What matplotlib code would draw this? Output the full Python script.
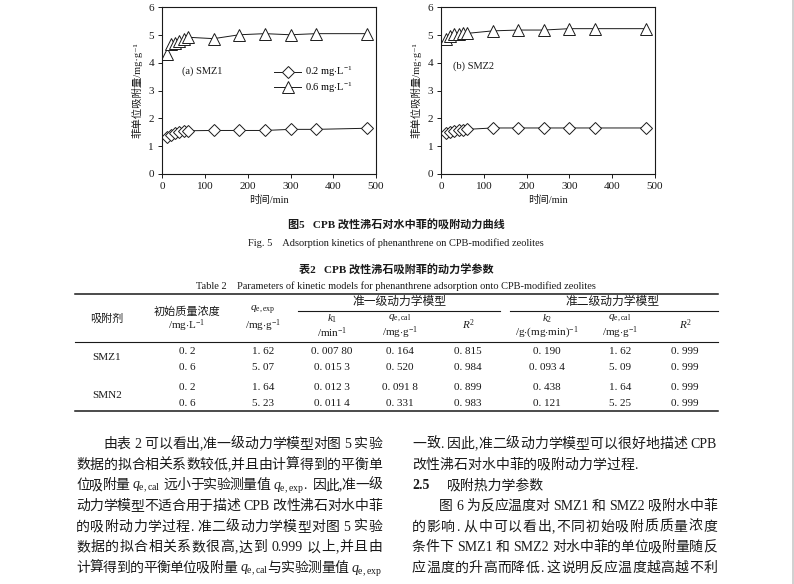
import re
import matplotlib
matplotlib.use("Agg")
import matplotlib.pyplot as plt

# ----------------------------
# data
# ----------------------------

time_min = [10, 20, 30, 40, 50, 60, 120, 180, 240, 300, 360, 480]

smz1_02 = [1.32, 1.41, 1.48, 1.52, 1.55, 1.55, 1.56, 1.56, 1.56, 1.60, 1.60, 1.64]
smz1_06 = [4.30, 4.67, 4.72, 4.77, 4.85, 4.92, 4.87, 5.01, 5.05, 5.01, 5.05, 5.05]
smz2_02 = [1.48, 1.52, 1.55, 1.56, 1.59, 1.60, 1.65, 1.65, 1.65, 1.65, 1.65, 1.65]
smz2_06 = [4.86, 4.98, 5.03, 5.05, 5.06, 5.06, 5.15, 5.18, 5.18, 5.23, 5.23, 5.23]

series_labels = [r"0.2 mg$\cdot$L$^{-1}$", r"0.6 mg$\cdot$L$^{-1}$"]

# table 2
sorbents = ["SMZ1", "SMN2"]
c0 = ["0. 2", "0. 6", "0. 2", "0. 6"]
qe_exp = ["1. 62", "5. 07", "1. 64", "5. 23"]
k1 = ["0. 007 80", "0. 015 3", "0. 012 3", "0. 011 4"]
qe_cal1 = ["0. 164", "0. 520", "0. 091 8", "0. 331"]
r2_1 = ["0. 815", "0. 984", "0. 899", "0. 983"]
k2 = ["0. 190", "0. 093 4", "0. 438", "0. 121"]
qe_cal2 = ["1. 62", "5. 09", "1. 64", "5. 25"]
r2_2 = ["0. 999", "0. 999", "0. 999", "0. 999"]

QC = r"$q_{\mathrm{e,cal}}$"
QE = r"$q_{\mathrm{e,exp}}$"

left_lines = [
    "由表 2 可以看出,准一级动力学模型对图 5 实验",
    "数据的拟合相关系数较低,并且由计算得到的平衡单",
    "位吸附量 " + QC + " 远小于实验测量值 " + QE + ".  因此,准一级",
    "动力学模型不适合用于描述 CPB 改性沸石对水中菲",
    "的吸附动力学过程. 准二级动力学模型对图 5 实验",
    "数据的拟合相关系数很高,达到 0.999 以上,并且由",
    "计算得到的平衡单位吸附量 " + QC + "与实验测量值 " + QE,
]
right_lines = [
    "一致. 因此,准二级动力学模型可以很好地描述 CPB",
    "改性沸石对水中菲的吸附动力学过程.",
    None,
    "图 6 为反应温度对 SMZ1 和 SMZ2 吸附水中菲",
    "的影响. 从中可以看出,不同初始吸附质质量浓度",
    "条件下 SMZ1 和 SMZ2 对水中菲的单位吸附量随反",
    "应温度的升高而降低. 这说明反应温度越高越不利",
]

# ----------------------------
# fonts
# ----------------------------

FAM = ["Liberation Serif", "Noto Sans CJK SC", "DejaVu Serif"]
plt.rcParams["font.family"] = FAM
plt.rcParams["mathtext.fontset"] = "custom"
plt.rcParams["mathtext.rm"] = "Liberation Serif"
plt.rcParams["mathtext.it"] = "Liberation Serif:italic"
plt.rcParams["mathtext.bf"] = "Liberation Serif:bold"
INK = "#1a1a1a"

fig = plt.figure(figsize=(7.94, 5.84), dpi=100)
fig.patch.set_facecolor("white")

# page overlay in pixel coordinates
page = fig.add_axes([0, 0, 1, 1], zorder=0)
page.set_xlim(0, 794)
page.set_ylim(584, 0)
page.axis("off")


def kinetics_panel(rect, low, high, tag, with_legend):
    ax = fig.add_axes(rect, zorder=2)
    l1, = ax.plot(time_min, low, color=INK, lw=0.7, marker="D", ms=6.5,
                  mfc="white", mec=INK, mew=0.7)
    l2, = ax.plot(time_min, high, color=INK, lw=0.7, marker="^", ms=8,
                  mfc="white", mec=INK, mew=0.7)
    ax.set_xlim(0, 500)
    ax.set_ylim(0, 6)
    ax.set_xticks(range(0, 501, 100))
    ax.set_yticks(range(0, 7))
    ax.tick_params(direction="out", length=3, width=0.7, labelsize=8,
                   colors=INK, pad=3)
    for s in ax.spines.values():
        s.set_linewidth(0.8)
        s.set_color(INK)
    ax.set_xlabel("时间/min", fontsize=7.5, color=INK, labelpad=3)
    ax.set_ylabel("菲单位吸附量/mg·g⁻¹", fontsize=7.5, color=INK,
                  labelpad=4)
    ax.text(tag[1], tag[2], tag[0], fontsize=7.5, color=INK, va="center")
    if with_legend:
        ax.legend([l1, l2], series_labels, loc="upper left",
                  bbox_to_anchor=(0.5, 0.685), frameon=False, fontsize=7.5,
                  handlelength=2.6, handletextpad=0.3, labelspacing=0.1,
                  borderpad=0)
    return ax


kinetics_panel([0.2045, 0.7025, 0.2690, 0.2850], smz1_02, smz1_06,
               ("(a) SMZ1", 45, 3.7), True)
kinetics_panel([0.5560, 0.7025, 0.2685, 0.2850], smz2_02, smz2_06,
               ("(b) SMZ2", 28, 3.86), False)

# ----------------------------
# captions
# ----------------------------

page.text(396, 225, "图5   CPB 改性沸石对水中菲的吸附动力曲线", fontsize=8,
          weight="bold", ha="center", va="center", color=INK)
page.text(396, 243, "Fig. 5    Adsorption kinetics of phenanthrene on CPB-modified zeolites",
          fontsize=7.5, ha="center", va="center", color=INK)
page.text(396, 270, "表2   CPB 改性沸石吸附菲的动力学参数", fontsize=8,
          weight="bold", ha="center", va="center", color=INK)
page.text(396, 286, "Table 2    Parameters of kinetic models for phenanthrene adsorption onto CPB-modified zeolites",
          fontsize=7.5, ha="center", va="center", color=INK)

# ----------------------------
# table
# ----------------------------

page.plot([75, 718], [294, 294], color=INK, lw=1.1)
page.plot([298, 500], [311, 311], color=INK, lw=0.8)
page.plot([510, 718], [311, 311], color=INK, lw=0.8)
page.plot([75, 718], [342, 342], color=INK, lw=0.8)
page.plot([75, 718], [411, 411], color=INK, lw=1.1)

cols = [107, 187, 263, 332, 400, 468, 547, 620, 685]
TS = 8


def cell(x, y, s, size=TS):
    page.text(x, y, s, fontsize=size, ha="center", va="center", color=INK)


cell(399, 302, "准一级动力学模型", 8.5)
cell(612, 302, "准二级动力学模型", 8.5)
cell(cols[0], 319, "吸附剂")
cell(cols[1], 312, "初始质量浓度")
cell(cols[1], 325.5, r"/mg$\cdot$L$^{-1}$")
cell(cols[2], 310.5, QE)
cell(cols[2], 325.5, r"/mg$\cdot$g$^{-1}$")
cell(cols[3], 318.5, r"$k_1$")
cell(cols[3], 332.5, r"/min$^{-1}$")
cell(cols[4], 318.5, QC)
cell(cols[4], 332.5, r"/mg$\cdot$g$^{-1}$")
cell(cols[5], 325, r"$R^2$")
cell(cols[6], 318.5, r"$k_2$")
cell(cols[6], 332.5, r"/g$\cdot$(mg$\cdot$min)$^{-1}$")
cell(cols[7], 318.5, QC)
cell(cols[7], 332.5, r"/mg$\cdot$g$^{-1}$")
cell(cols[8], 325, r"$R^2$")

row_y = [351, 367, 387, 403]
cell(cols[0], 358, sorbents[0])
cell(cols[0], 395, sorbents[1])
for i, y in enumerate(row_y):
    for x, vals in zip(cols[1:], [c0, qe_exp, k1, qe_cal1, r2_1, k2, qe_cal2, r2_2]):
        cell(x, y, vals[i])

# ----------------------------
# body text (justified lines)
# ----------------------------

renderer = fig.canvas.get_renderer()
TOKEN = re.compile(r"\$[^$]+\$|[A-Za-z0-9.]+|\s+|\S")


def body_line(x0, x1, y, line, justify=True, size=10):
    toks = TOKEN.findall(line)
    items = []
    for t in toks:
        if t.isspace():
            items.append((None, 3.5 * len(t)))
        else:
            txt = page.text(0, y + 5, t, fontsize=size, ha="left",
                            va="baseline", color=INK)
            w = txt.get_window_extent(renderer).width
            items.append((txt, w))
    n_txt = sum(1 for it in items if it[0] is not None)
    total = sum(w for _, w in items)
    gap = (x1 - x0 - total) / max(n_txt - 1, 1) if justify else 0.0
    x = x0
    first = True
    for txt, w in items:
        if txt is None:
            x += w
            continue
        if not first:
            x += gap
        txt.set_x(x)
        x += w
        first = False


line_y = [443, 463.7, 484.3, 505, 525.7, 546.3, 567]

for i, ln in enumerate(left_lines):
    body_line(103 if i == 0 else 76, 382, line_y[i], ln)

for i, ln in enumerate(right_lines):
    if ln is None:
        continue
    body_line(439 if i == 3 else 412, 717, line_y[i], ln, justify=(i != 1))

page.text(412, line_y[2] + 5, "2.5", fontsize=10, weight="bold",
          va="baseline", color=INK)
page.text(447, line_y[2] + 5, "吸附热力学参数", fontsize=10, va="baseline",
          color=INK)

# scan edge on the right
page.plot([792.5, 792.5], [0, 584], color="#c8c8c8", lw=1.2)

plt.savefig("out.png", dpi=100)
